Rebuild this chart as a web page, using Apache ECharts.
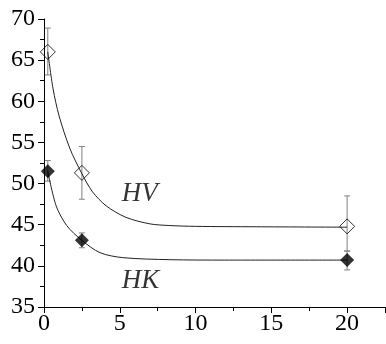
<!DOCTYPE html>
<html>
<head>
<meta charset="utf-8">
<script src="https://cdn.jsdelivr.net/npm/echarts@6/dist/echarts.min.js"></script>
<style>
    html, body { margin: 0; padding: 0; background: #fff; }
    #chart { width: 386px; height: 344px; }
</style>
</head>
<body>
<div id="chart"></div>
<script>
// measured points
var xPts = [0.25, 2.5, 20];
var hvVals = [66.0, 51.3, 44.8];
var hvLow = [63.2, 48.1, 41.8];
var hvHigh = [68.9, 54.5, 48.5];
var hkVals = [51.5, 43.1, 40.7];
var hkLow = [50.3, 42.2, 39.5];
var hkHigh = [52.8, 44.0, 41.8];

// fitted curves
var hvFitX = [0.25, 0.6, 1.0, 1.7, 2.5, 3.2, 4.1, 5.4, 7.0, 8.3, 10, 14, 20];
var hvFitY = [66.0, 61.5, 58.2, 54.3, 51.2, 49.0, 47.3, 45.9, 45.1, 44.9, 44.8, 44.75, 44.7];
var hkFitX = [0.25, 0.8, 1.5, 2.5, 3.7, 5.2, 8.3, 12, 20];
var hkFitY = [51.5, 47.3, 44.9, 43.1, 41.6, 41.0, 40.75, 40.7, 40.7];

// curve names and where they are written
var curveNames = ['HV', 'HK'];
var nameX = [5.1, 5.1];
var nameY = [48.7, 38.2];

var yTicks = [35, 40, 45, 50, 55, 60, 65, 70];
var xTicks = [0, 5, 10, 15, 20];

function zip(a, b) {
    var out = [];
    for (var i = 0; i < a.length; i++) out.push([a[i], b[i]]);
    return out;
}
function zip3(a, b, c) {
    var out = [];
    for (var i = 0; i < a.length; i++) out.push([a[i], b[i], c[i]]);
    return out;
}

function renderErr(params, api) {
    var x = api.value(0);
    var lo = api.coord([x, api.value(1)]);
    var hi = api.coord([x, api.value(2)]);
    var w = 3;
    var st = { stroke: '#808080', lineWidth: 1 };
    return {
        type: 'group',
        children: [
            { type: 'line', shape: { x1: lo[0], y1: lo[1], x2: hi[0], y2: hi[1] }, style: st },
            { type: 'line', shape: { x1: hi[0] - w, y1: hi[1], x2: hi[0] + w, y2: hi[1] }, style: st },
            { type: 'line', shape: { x1: lo[0] - w, y1: lo[1], x2: lo[0] + w, y2: lo[1] }, style: st }
        ]
    };
}

var serif = 'Liberation Serif';

var nameData = [];
for (var i = 0; i < curveNames.length; i++) {
    nameData.push({ value: [nameX[i], nameY[i]], name: curveNames[i] });
}

var myChart = echarts.init(document.getElementById('chart'), null, { renderer: 'canvas' });
var option = {
    animation: false,
    backgroundColor: '#fff',
    grid: { left: 44, right: 1, top: 19, bottom: 37 },
    xAxis: {
        type: 'value',
        min: 0,
        max: 22.5,
        interval: 5,
        splitLine: { show: false },
        axisLine: { onZero: false, lineStyle: { color: '#000', width: 1 } },
        axisTick: { inside: false, length: 6, lineStyle: { color: '#000' } },
        minorTick: { show: true, splitNumber: 2, length: 4, lineStyle: { color: '#000' } },
        axisLabel: {
            color: '#000', fontFamily: serif, fontSize: 24, margin: 5,
            showMaxLabel: false,
            formatter: function (v) { return xTicks.indexOf(v) >= 0 ? String(v) : ''; }
        }
    },
    yAxis: {
        type: 'value',
        min: yTicks[0],
        max: yTicks[yTicks.length - 1],
        interval: 5,
        splitLine: { show: false },
        axisLine: { show: true, onZero: false, lineStyle: { color: '#000', width: 1 } },
        axisTick: { show: true, inside: false, length: 6, lineStyle: { color: '#000' } },
        minorTick: { show: true, splitNumber: 2, length: 4, lineStyle: { color: '#000' } },
        axisLabel: { color: '#000', fontFamily: serif, fontSize: 24, margin: 9 }
    },
    series: [
        {
            name: 'HV fit',
            type: 'line',
            data: zip(hvFitX, hvFitY),
            smooth: 0.3,
            showSymbol: false,
            lineStyle: { color: '#222', width: 1 }
        },
        {
            name: 'HK fit',
            type: 'line',
            data: zip(hkFitX, hkFitY),
            smooth: 0.3,
            showSymbol: false,
            lineStyle: { color: '#222', width: 1 }
        },
        {
            name: 'HV err',
            type: 'custom',
            renderItem: renderErr,
            data: zip3(xPts, hvLow, hvHigh),
            z: 3
        },
        {
            name: 'HK err',
            type: 'custom',
            renderItem: renderErr,
            data: zip3(xPts, hkLow, hkHigh),
            z: 3
        },
        {
            name: 'HV',
            type: 'scatter',
            data: zip(xPts, hvVals),
            symbol: 'diamond',
            symbolSize: [15, 15],
            itemStyle: { color: 'rgba(0,0,0,0)', borderColor: '#000', borderWidth: 1 },
            z: 4
        },
        {
            name: 'HK',
            type: 'scatter',
            data: zip(xPts, hkVals),
            symbol: 'diamond',
            symbolSize: [14, 14],
            itemStyle: { color: '#000' },
            z: 4
        },
        {
            name: 'labels',
            type: 'scatter',
            data: nameData,
            symbolSize: 1,
            itemStyle: { color: 'rgba(0,0,0,0)' },
            silent: true,
            label: {
                show: true,
                position: 'right',
                distance: 0,
                formatter: '{b}',
                color: '#000',
                fontFamily: serif,
                fontStyle: 'italic',
                fontSize: 27
            },
            z: 5
        }
    ]
};
myChart.setOption(option);
</script>
</body>
</html>
